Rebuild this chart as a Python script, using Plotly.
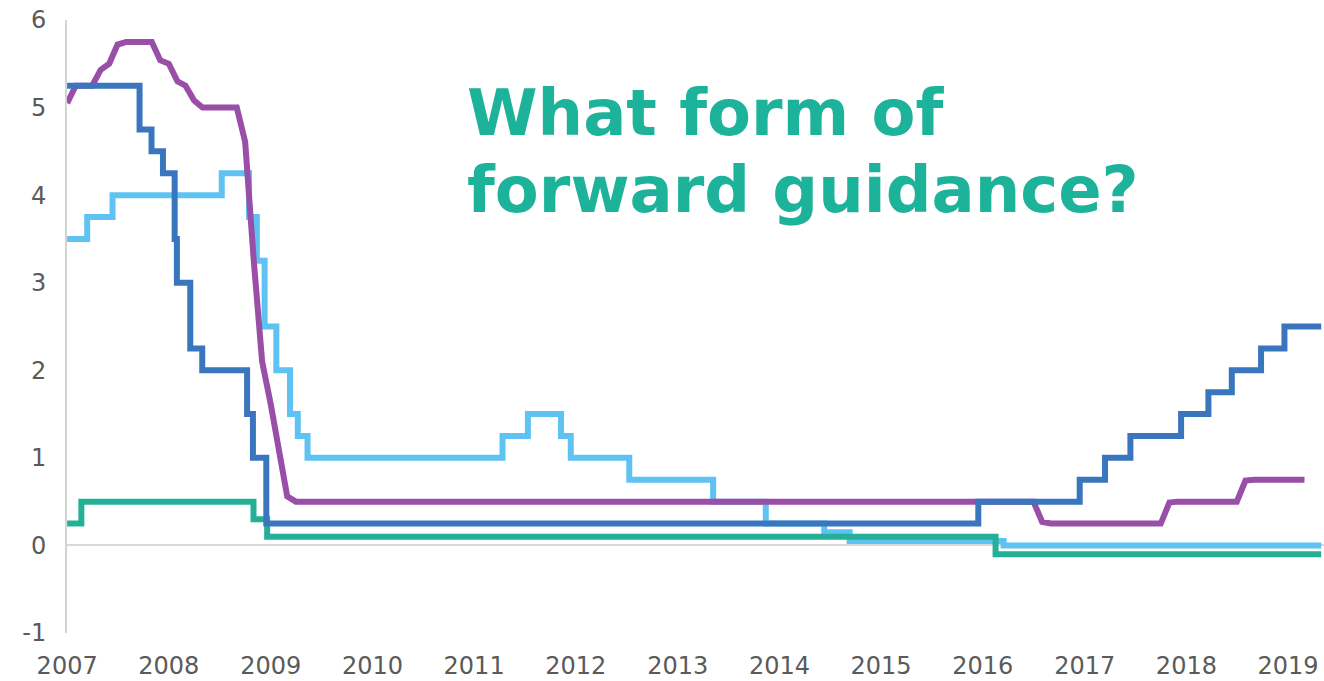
import plotly.graph_objects as go

# ---------------- data ----------------
fed_dates = ["2007-01-01", "2007-09-18", "2007-10-31", "2007-12-11", "2008-01-22", "2008-01-30",
             "2008-03-18", "2008-04-30", "2008-10-08", "2008-10-29", "2008-12-16", "2015-12-16",
             "2016-12-14", "2017-03-15", "2017-06-14", "2017-12-13", "2018-03-21", "2018-06-13",
             "2018-09-26", "2018-12-19", "2019-04-30"]
fed_rates = [5.25, 4.75, 4.50, 4.25, 3.50, 3.00, 2.25, 2.00, 1.50, 1.00, 0.25, 0.50,
             0.75, 1.00, 1.25, 1.50, 1.75, 2.00, 2.25, 2.50, 2.50]

boe_dates = ["2007-01-01", "2007-02-01", "2007-04-01", "2007-05-01", "2007-06-01", "2007-07-01",
             "2007-08-01", "2007-11-01", "2007-12-01", "2008-01-01", "2008-02-01", "2008-03-01",
             "2008-04-01", "2008-05-01", "2008-09-01", "2008-10-01", "2008-11-01", "2008-12-01",
             "2009-01-01", "2009-02-01", "2009-03-01", "2009-04-01", "2016-07-01", "2016-08-01",
             "2016-09-01", "2017-10-01", "2017-11-01", "2017-12-01", "2018-07-01", "2018-08-01",
             "2018-09-01", "2019-03-01"]
boe_rates = [5.05, 5.25, 5.25, 5.43, 5.50, 5.72, 5.75, 5.75, 5.54, 5.50, 5.30, 5.25,
             5.08, 5.00, 5.00, 4.61, 3.25, 2.10, 1.61, 1.07, 0.56, 0.50, 0.50, 0.27,
             0.25, 0.25, 0.49, 0.50, 0.50, 0.74, 0.75, 0.75]

ecb_dates = ["2007-01-01", "2007-03-14", "2007-06-13", "2008-07-09", "2008-10-15", "2008-11-12",
             "2008-12-10", "2009-01-21", "2009-03-11", "2009-04-08", "2009-05-13", "2011-04-13",
             "2011-07-13", "2011-11-09", "2011-12-14", "2012-07-11", "2013-05-08", "2013-11-13",
             "2014-06-11", "2014-09-10", "2016-03-16", "2019-04-30"]
ecb_rates = [3.50, 3.75, 4.00, 4.25, 3.75, 3.25, 2.50, 2.00, 1.50, 1.25, 1.00, 1.25,
             1.50, 1.25, 1.00, 0.75, 0.50, 0.25, 0.15, 0.05, 0.00, 0.00]

boj_dates = ["2007-01-01", "2007-02-21", "2008-10-31", "2008-12-19", "2016-02-16", "2019-04-30"]
boj_rates = [0.25, 0.50, 0.30, 0.10, -0.10, -0.10]

y_tick_vals = [-1, 0, 1, 2, 3, 4, 5, 6]
y_tick_text = ["-1", "0", "1", "2", "3", "4", "5", "6"]

title_line1 = "What form of"
title_line2 = "forward guidance?"

# ---------------- figure ----------------
W, H = 1324, 681
ML, MR, MT, MB = 67, 0, 20, 48
plot_h = H - MT - MB


def page_y_to_paper(py):
    return (H - MB - py) / plot_h


def page_x_to_paper(px):
    return (px - ML) / (W - ML - MR)


fig = go.Figure()
fig.add_trace(go.Scatter(x=ecb_dates, y=ecb_rates, mode="lines", line_shape="hv",
                         line=dict(color="#5EC3F2", width=6), name="ECB"))
fig.add_trace(go.Scatter(x=boj_dates, y=boj_rates, mode="lines", line_shape="hv",
                         line=dict(color="#24B096", width=6), name="BoJ"))
fig.add_trace(go.Scatter(x=boe_dates, y=boe_rates, mode="lines", line_shape="linear",
                         line=dict(color="#994EA8", width=6), name="BoE"))
fig.add_trace(go.Scatter(x=fed_dates, y=fed_rates, mode="lines", line_shape="hv",
                         line=dict(color="#3A76BE", width=6), name="Fed"))

tick_font = dict(family="DejaVu Sans", size=24, color="#5A5A5A")

fig.update_layout(
    width=W, height=H,
    margin=dict(l=ML, r=MR, t=MT, b=MB, autoexpand=False),
    paper_bgcolor="white", plot_bgcolor="white",
    showlegend=False,
    hovermode=False,
    font=dict(family="DejaVu Sans", size=24, color="#5A5A5A"),
)
fig.update_xaxes(
    type="date",
    range=["2006-12-31 12:00", "2019-05-10"],
    tick0="2007-01-01", dtick="M12", tickformat="%Y",
    showgrid=False, zeroline=False, showline=False, ticks="",
    ticklabelstandoff=16, automargin=False, ticklabeloverflow="allow",
    tickfont=tick_font,
)
fig.update_yaxes(
    range=[-1, 6],
    tickvals=y_tick_vals, ticktext=y_tick_text,
    showgrid=False,
    zeroline=True, zerolinecolor="#D9D9D9", zerolinewidth=2,
    showline=True, linecolor="#D4D4D4", linewidth=2,
    ticks="", ticklabelstandoff=14, automargin=False, ticklabeloverflow="allow",
    layer="below traces",
    tickfont=tick_font,
)

title_font = dict(family="DejaVu Sans", size=64, color="#1DB39B")
title_x = page_x_to_paper(465)
fig.add_annotation(text="<b>" + title_line1 + "</b>", xref="paper", yref="paper",
                   x=title_x, y=page_y_to_paper(113), xanchor="left", yanchor="middle",
                   showarrow=False, font=title_font)
fig.add_annotation(text="<b>" + title_line2 + "</b>", xref="paper", yref="paper",
                   x=title_x, y=page_y_to_paper(190), xanchor="left", yanchor="middle",
                   showarrow=False, font=title_font)

# remove the browser's default 8px body margin so the figure fills the window
fig.write_html("out.html",
               config={"displayModeBar": False, "staticPlot": True},
               post_script="document.body.style.margin='0px';document.body.style.overflow='hidden';")
